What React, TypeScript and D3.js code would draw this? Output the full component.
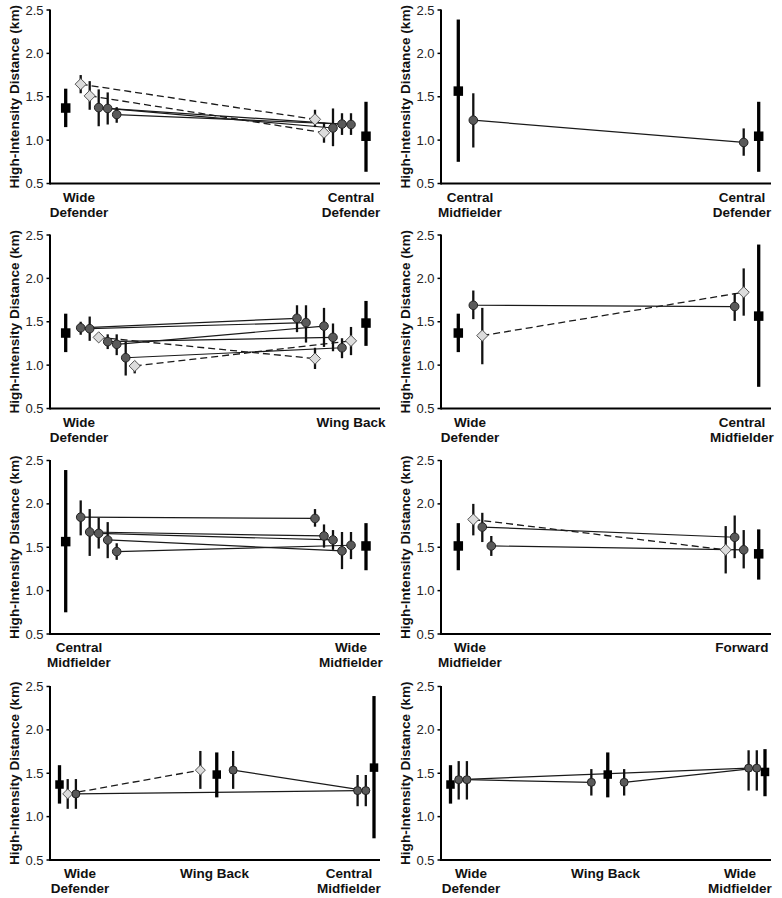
import React from "react";
import * as d3 from "d3";

// ---- Data ----
const positionLabels: string[][] = [
  ["Wide", "Defender"],
  ["Central", "Defender"],
  ["Central", "Midfielder"],
  ["Wing Back"],
  ["Wide", "Midfielder"],
  ["Forward"],
];
const positionMean = [1.37, 1.045, 1.565, 1.485, 1.515, 1.424];
const positionLo = [1.15, 0.635, 0.75, 1.222, 1.235, 1.127];
const positionHi = [1.593, 1.442, 2.39, 1.74, 1.778, 1.706];

// categories (position index) in each panel
const panelCategories = [
  [0, 1],
  [2, 1],
  [0, 3],
  [0, 2],
  [2, 4],
  [4, 5],
  [0, 3, 2],
  [0, 3, 4],
];

// player: [shape, [catIdx, slot, mean, lo, hi], [catIdx, slot, mean, lo, hi]]
type Pt = [number, number, number, number, number];
type Player = [string, Pt, Pt];

const panel1: Player[] = [
  ["d", [0, 1, 1.645, 1.54, 1.75], [1, -5, 1.24, 1.15, 1.35]],
  ["d", [0, 2, 1.51, 1.35, 1.68], [1, -4, 1.085, 0.97, 1.2]],
  ["c", [0, 3, 1.375, 1.16, 1.585], [1, -3, 1.14, 0.93, 1.365]],
  ["c", [0, 4, 1.365, 1.18, 1.55], [1, -2, 1.185, 1.06, 1.31]],
  ["c", [0, 5, 1.295, 1.2, 1.38], [1, -1, 1.18, 1.06, 1.31]],
];
const panel2: Player[] = [
  ["c", [0, 1, 1.23, 0.915, 1.54], [1, -1, 0.973, 0.82, 1.135]],
];
const panel3: Player[] = [
  ["c", [0, 1, 1.43, 1.35, 1.5], [1, -7, 1.54, 1.38, 1.69]],
  ["c", [0, 2, 1.42, 1.28, 1.56], [1, -6, 1.49, 1.26, 1.69]],
  ["d", [0, 3, 1.32, 1.29, 1.35], [1, -5, 1.075, 0.955, 1.2]],
  ["c", [0, 4, 1.27, 1.185, 1.355], [1, -3, 1.32, 1.16, 1.48]],
  ["c", [0, 5, 1.24, 1.115, 1.355], [1, -4, 1.45, 1.21, 1.66]],
  ["c", [0, 6, 1.085, 0.88, 1.27], [1, -2, 1.2, 1.08, 1.31]],
  ["d", [0, 7, 0.99, 0.905, 1.045], [1, -1, 1.28, 1.115, 1.44]],
];
const panel4: Player[] = [
  ["c", [0, 1, 1.69, 1.53, 1.86], [1, -2, 1.675, 1.51, 1.83]],
  ["d", [0, 2, 1.34, 1.01, 1.66], [1, -1, 1.84, 1.57, 2.115]],
];
const panel5: Player[] = [
  ["c", [0, 1, 1.847, 1.637, 2.04], [1, -5, 1.832, 1.737, 1.94]],
  ["c", [0, 2, 1.676, 1.4, 1.94], [1, -4, 1.63, 1.496, 1.763]],
  ["c", [0, 3, 1.66, 1.485, 1.84], [1, -3, 1.584, 1.47, 1.698]],
  ["c", [0, 4, 1.584, 1.374, 1.79], [1, -2, 1.458, 1.248, 1.676]],
  ["c", [0, 5, 1.45, 1.355, 1.546], [1, -1, 1.523, 1.363, 1.676]],
];
const panel6: Player[] = [
  ["d", [0, 1, 1.82, 1.637, 2.0], [1, -3, 1.47, 1.198, 1.744]],
  ["c", [0, 2, 1.733, 1.56, 1.897], [1, -2, 1.615, 1.374, 1.866]],
  ["c", [0, 3, 1.515, 1.4, 1.63], [1, -1, 1.47, 1.256, 1.698]],
];
const panel7: Player[] = [
  ["d", [0, 1, 1.262, 1.09, 1.433], [1, -2, 1.536, 1.32, 1.757]],
  ["c", [0, 2, 1.262, 1.09, 1.433], [2, -2, 1.3, 1.12, 1.48]],
  ["c", [1, 2, 1.536, 1.32, 1.757], [2, -1, 1.3, 1.12, 1.48]],
];
const panel8: Player[] = [
  ["c", [0, 1, 1.426, 1.197, 1.64], [2, -2, 1.559, 1.3, 1.765]],
  ["c", [0, 2, 1.426, 1.197, 1.64], [1, -2, 1.395, 1.243, 1.548]],
  ["c", [1, 2, 1.395, 1.243, 1.548], [2, -1, 1.559, 1.3, 1.765]],
];
const panelPlayers = [panel1, panel2, panel3, panel4, panel5, panel6, panel7, panel8];

const yTicks = [0.5, 1.0, 1.5, 2.0, 2.5];
const yLabel = "High-Intensity Distance (km)";

// ---- Layout ----
const W = 782;
const H = 898;
const colX = [50, 441];
const rowTop = [10, 235, 460.5, 686.5];
const plotH = 173.5;
const plotW = 330;
const FONT = "'Liberation Sans', Arial, Helvetica, sans-serif";

function Panel({ idx }: { idx: number }) {
  const row = Math.floor(idx / 2);
  const col = idx % 2;
  const x0 = colX[col];
  const top = rowTop[row];
  const bottom = top + plotH;
  const cats = panelCategories[idx];
  const players = panelPlayers[idx];
  const three = cats.length === 3;

  const y = d3.scaleLinear().domain([0.5, 2.5]).range([bottom, top]);
  const catRange = three
    ? [x0 + 9.5, x0 + 324]
    : col === 0
    ? [x0 + 15.7, x0 + 316]
    : [x0 + 17.3, x0 + 317.7];
  const xc = d3.scaleLinear().domain([0, cats.length - 1]).range(catRange);
  const labelX = d3
    .scaleLinear()
    .domain([0, cats.length - 1])
    .range(three ? [x0 + 30, x0 + 299] : [x0 + 29, x0 + 301]);
  const dodgeA = three ? 0 : 6;
  const dodgeB = three ? 8.2 : 9;
  const px = (p: Pt) =>
    xc(p[0]) + Math.sign(p[1]) * (dodgeA + dodgeB * Math.abs(p[1]));
  const line = d3
    .line<Pt>()
    .x((p) => px(p))
    .y((p) => y(p[2]));

  const sq = three ? 8.5 : 9.5;
  const r = three ? 4 : 4.3;
  const dd = three ? 5 : 5.6;

  const pts: { shape: string; p: Pt }[] = [];
  players.forEach((pl) => {
    pts.push({ shape: pl[0], p: pl[1] });
    pts.push({ shape: pl[0], p: pl[2] });
  });

  return (
    <g>
      {/* y label */}
      <text
        transform={`translate(${x0 - 36},${(top + bottom) / 2}) rotate(-90)`}
        textAnchor="middle"
        dominantBaseline="central"
        fontFamily={FONT}
        fontWeight="bold"
        fontSize={13.6}
        fill="#111"
      >
        {yLabel}
      </text>
      {/* y ticks */}
      {yTicks.map((t) => (
        <g key={t}>
          <line x1={x0 - 3.5} x2={x0} y1={y(t)} y2={y(t)} stroke="#000" strokeWidth={1.5} />
          <text
            x={x0 - 6.5}
            y={y(t)}
            textAnchor="end"
            dominantBaseline="central"
            fontFamily={FONT}
            fontSize={13}
            fill="#222"
          >
            {t.toFixed(1)}
          </text>
        </g>
      ))}
      {/* axes */}
      <line x1={x0} x2={x0} y1={top - 0.5} y2={bottom + 1} stroke="#000" strokeWidth={2} />
      <line x1={x0} x2={x0 + plotW} y1={bottom} y2={bottom} stroke="#000" strokeWidth={2} />
      {/* category labels */}
      {cats.map((c, i) =>
        positionLabels[c].map((t, j) => (
          <text
            key={`${i}-${j}`}
            x={labelX(i)}
            y={bottom + 18.3 + j * 15}
            textAnchor="middle"
            fontFamily={FONT}
            fontWeight="bold"
            fontSize={13.5}
            fill="#111"
          >
            {t}
          </text>
        ))
      )}
      {/* connecting lines */}
      {players.map((pl, i) => (
        <path
          key={`l${i}`}
          d={line([pl[1], pl[2]]) || ""}
          fill="none"
          stroke="#1a1a1a"
          strokeWidth={pl[0] === "d" ? 1.3 : 1.2}
          strokeDasharray={pl[0] === "d" ? "7,4" : undefined}
        />
      ))}
      {/* group squares */}
      {cats.map((c, i) => (
        <g key={`s${i}`}>
          <line
            x1={xc(i)}
            x2={xc(i)}
            y1={y(positionLo[c])}
            y2={y(positionHi[c])}
            stroke="#000"
            strokeWidth={3.3}
          />
          <rect
            x={xc(i) - sq / 2}
            y={y(positionMean[c]) - sq / 2}
            width={sq}
            height={sq}
            fill="#000"
          />
        </g>
      ))}
      {/* individual points */}
      {pts.map((o, i) => {
        const cx = px(o.p);
        const cy = y(o.p[2]);
        return (
          <g key={`p${i}`}>
            <line
              x1={cx}
              x2={cx}
              y1={y(o.p[3])}
              y2={y(o.p[4])}
              stroke="#111"
              strokeWidth={2.3}
            />
            {o.shape === "c" ? (
              <circle cx={cx} cy={cy} r={r} fill="#5a5a5a" stroke="#222" strokeWidth={1} />
            ) : (
              <path
                d={`M${cx},${cy - dd}L${cx + dd},${cy}L${cx},${cy + dd}L${cx - dd},${cy}Z`}
                fill="#dcdcdc"
                stroke="#555"
                strokeWidth={1}
              />
            )}
          </g>
        );
      })}
    </g>
  );
}

export default function App() {
  return (
    <svg
      width={W}
      height={H}
      viewBox={`0 0 ${W} ${H}`}
      style={{ position: "absolute", left: 0, top: 0, background: "#fff" }}
    >
      <rect width={W} height={H} fill="#fff" />
      {panelCategories.map((_, i) => (
        <Panel key={i} idx={i} />
      ))}
    </svg>
  );
}
